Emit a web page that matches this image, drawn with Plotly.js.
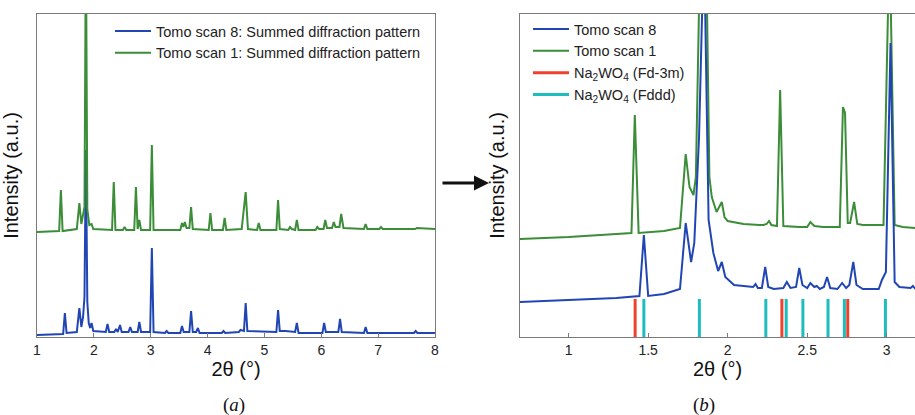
<!DOCTYPE html>
<html>
<head>
<meta charset="utf-8">
<script src="https://cdn.plot.ly/plotly-3.0.1.min.js"></script>
<style>html,body{margin:0;padding:0;background:#fff;overflow:hidden}#chart{width:915px;height:415px}</style>
</head>
<body>
<div id="chart"></div>
<script>
// ---------- Panel (a): full range summed patterns ----------
const scan8_a_x = [1.00,1.46,1.49,1.52,1.70,1.745,1.78,1.81,1.835,1.86,1.885,1.91,1.935,1.96,1.99,2.21,2.24,2.27,2.36,2.39,2.42,2.46,2.49,2.61,2.64,2.67,2.77,2.80,2.83,2.99,3.02,3.05,3.25,3.28,3.31,3.52,3.55,3.58,3.68,3.71,3.74,3.80,3.83,3.86,4.25,4.28,4.31,4.55,4.58,4.64,4.67,4.70,5.21,5.24,5.27,5.37,5.54,5.57,5.60,6.02,6.05,6.08,6.30,6.33,6.36,6.75,6.78,6.81,7.63,7.66,7.69,8.00];
const scan8_a_y = [2,3,24,4,5,29,10,20,40,187,35,14,9,14,6,5,13,5,5,8,5,12,5,5,10,5,5,15,5,5,89,5,4,6,4,4,11,5,5,26,5,5,9,4,4,6,4,5,7,6,34,6,5,27,6,6,5,14,4,4,14,5,5,18,5,4,10,4,4,6,4,4];

const scan1_a_x = [1.00,1.39,1.42,1.45,1.70,1.745,1.78,1.80,1.835,1.86,1.885,1.92,1.96,1.99,2.32,2.35,2.38,2.51,2.54,2.57,2.71,2.74,2.77,2.80,2.83,2.99,3.02,3.05,3.52,3.55,3.575,3.60,3.63,3.68,3.71,3.74,4.02,4.05,4.08,4.27,4.30,4.33,4.60,4.67,4.71,4.87,4.90,4.93,5.21,5.24,5.27,5.42,5.45,5.48,5.54,5.57,5.60,5.90,5.93,5.96,6.04,6.07,6.10,6.19,6.22,6.25,6.32,6.35,6.39,6.75,6.78,6.81,7.02,7.05,7.08,7.65,7.68,8.00];
const scan1_a_y = [105,106,147,106,108,134,113,118,130,400,128,112,113,108,107,155,107,107,110,107,107,150,108,117,107,107,192,107,107,114,110,115,109,109,130,108,107,124,107,107,119,107,108,145,108,107,114,107,107,137,108,107,110,108,107,117,107,107,110,108,108,117,109,109,115,110,110,123,109,108,113,108,108,110,108,108,109,108];

// ---------- Panel (b): zoomed patterns with reference reflections ----------
const scan8_b_x = [0.69,1.00,1.30,1.445,1.473,1.50,1.60,1.70,1.736,1.77,1.79,1.82,1.851,1.88,1.91,1.94,1.963,1.985,2.04,2.16,2.175,2.19,2.215,2.236,2.255,2.29,2.35,2.372,2.395,2.43,2.45,2.47,2.50,2.52,2.545,2.56,2.58,2.605,2.625,2.645,2.69,2.72,2.745,2.765,2.79,2.81,2.85,2.95,2.97,2.995,3.024,3.05,3.08,3.15,3.165,3.18];
const scan8_b_y = [35,37,39,41,102,41,43,48,114,75,94,200,400,117,84,66,75,60,52,50,53,49,49,70,50,48,49,55,49,50,69,52,49,54,50,51,48,50,60,49,48,54,49,52,75,52,48,48,57,65,294,55,50,49,51,48];

const scan1_b_x = [0.69,1.00,1.30,1.395,1.416,1.44,1.60,1.70,1.736,1.76,1.785,1.80,1.82,1.845,1.87,1.885,1.90,1.93,1.963,1.98,2.00,2.10,2.20,2.225,2.245,2.26,2.275,2.31,2.33,2.35,2.45,2.50,2.52,2.545,2.60,2.705,2.725,2.738,2.755,2.77,2.795,2.815,2.85,2.98,3.018,3.05,3.10,3.18];
const scan1_b_y = [98,100,103,104,222,104,106,109,183,150,142,160,330,400,330,160,140,125,135,120,116,113,112,112,113,116,112,111,247,111,110,110,115,111,110,110,230,224,114,114,135,113,112,112,400,112,110,109];

const fd3m_positions = [1.418, 2.341, 2.755];
const fddd_positions = [1.473, 1.822, 2.240, 2.368, 2.473, 2.631, 2.734, 2.992];
const stick_height = 38;

const legend_labels = {
  scan8_a: 'Tomo scan 8: Summed diffraction pattern',
  scan1_a: 'Tomo scan 1: Summed diffraction pattern',
  scan8_b: 'Tomo scan 8',
  scan1_b: 'Tomo scan 1',
  fd3m: 'Na<sub>2</sub>WO<sub>4</sub> (Fd-3m)',
  fddd: 'Na<sub>2</sub>WO<sub>4</sub> (Fddd)'
};

const BLUE = '#2146b4', GREEN = '#3b8d38', RED = '#f0402e', CYAN = '#1dbdbd';

function sticks(pos){
  const xs = [], ys = [];
  pos.forEach(p => { xs.push(p, p, null); ys.push(0, stick_height, null); });
  return {x: xs, y: ys};
}
const s1 = sticks(fd3m_positions), s2 = sticks(fddd_positions);

const traces = [
  {x: scan8_a_x, y: scan8_a_y, type: 'scatter', mode: 'lines', name: legend_labels.scan8_a,
   line: {color: BLUE, width: 2}, xaxis: 'x', yaxis: 'y', legend: 'legend2'},
  {x: scan1_a_x, y: scan1_a_y, type: 'scatter', mode: 'lines', name: legend_labels.scan1_a,
   line: {color: GREEN, width: 2}, xaxis: 'x', yaxis: 'y', legend: 'legend2'},
  {x: scan1_b_x, y: scan1_b_y, type: 'scatter', mode: 'lines', name: legend_labels.scan1_b,
   line: {color: GREEN, width: 2}, xaxis: 'x2', yaxis: 'y2', legendrank: 2},
  {x: scan8_b_x, y: scan8_b_y, type: 'scatter', mode: 'lines', name: legend_labels.scan8_b,
   line: {color: BLUE, width: 2}, xaxis: 'x2', yaxis: 'y2', legendrank: 1},
  {x: s1.x, y: s1.y, type: 'scatter', mode: 'lines', name: legend_labels.fd3m, connectgaps: false,
   line: {color: RED, width: 3}, xaxis: 'x2', yaxis: 'y2', legendrank: 3},
  {x: s2.x, y: s2.y, type: 'scatter', mode: 'lines', name: legend_labels.fddd, connectgaps: false,
   line: {color: CYAN, width: 3}, xaxis: 'x2', yaxis: 'y2', legendrank: 4}
];

const FONT = 'Liberation Sans, Arial, sans-serif';
const FRAME = '#7a7a7a';
const yDom = [1 - 337/415, 1 - 14/415];

const layout = {
  width: 915, height: 415,
  margin: {l: 0, r: 0, t: 0, b: 0},
  paper_bgcolor: '#fff', plot_bgcolor: '#fff',
  font: {family: FONT, color: '#222', size: 14},
  showlegend: true,
  xaxis: {domain: [37/915, 435/915], range: [1, 8], dtick: 1, tick0: 1,
    showline: true, mirror: true, linecolor: FRAME, linewidth: 1,
    ticks: 'inside', ticklen: 4, tickcolor: FRAME, showgrid: false, zeroline: false,
    tickfont: {size: 14, color: '#222'},
    title: {text: '2θ (°)', font: {size: 20, color: '#111'}, standoff: 4}},
  yaxis: {domain: yDom, range: [0, 323], showline: true, mirror: true, linecolor: FRAME, linewidth: 1,
    showticklabels: false, ticks: '', showgrid: false, zeroline: false,
    title: {text: 'Intensity (a.u.)', font: {size: 20, color: '#111'}, standoff: 12}},
  xaxis2: {domain: [520/915, 1], range: [0.694, 3.178], dtick: 0.5, tick0: 1,
    showline: true, mirror: true, linecolor: FRAME, linewidth: 1,
    ticks: 'inside', ticklen: 4, tickcolor: FRAME, showgrid: false, zeroline: false,
    tickfont: {size: 14, color: '#222'}, anchor: 'y2',
    title: {text: '2θ (°)', font: {size: 20, color: '#111'}, standoff: 4}},
  yaxis2: {domain: yDom, range: [0, 323], showline: true, mirror: false, linecolor: FRAME, linewidth: 1,
    showticklabels: false, ticks: '', showgrid: false, zeroline: false, anchor: 'x2',
    title: {text: 'Intensity (a.u.)', font: {size: 20, color: '#111'}, standoff: 9}},
  legend: {x: 528/915, y: 1 - 13/415, xanchor: 'left', yanchor: 'top', bgcolor: 'rgba(0,0,0,0)',
    font: {family: FONT, size: 14.5, color: '#222'}, tracegroupgap: 0, traceorder: 'normal', itemwidth: 36},
  legend2: {x: 110/915, y: 1 - 15/415, xanchor: 'left', yanchor: 'top', bgcolor: 'rgba(0,0,0,0)',
    font: {family: FONT, size: 14.5, color: '#222'}, tracegroupgap: 0, itemwidth: 36},
  annotations: [
    {text: '(<i>a</i>)', xref: 'paper', yref: 'paper', x: 221/915, y: 1 - 405/415, yanchor: 'middle', showarrow: false,
     font: {family: 'Liberation Serif, Times New Roman, serif', size: 19, color: '#111'}},
    {text: '(<i>b</i>)', xref: 'paper', yref: 'paper', x: 717/915, y: 1 - 405/415, yanchor: 'middle', showarrow: false,
     font: {family: 'Liberation Serif, Times New Roman, serif', size: 19, color: '#111'}},
    {text: '', xref: 'paper', yref: 'paper', x: 489/915, y: 1 - 183/415, showarrow: true,
     ax: -48, ay: 0, arrowhead: 2, arrowsize: 1, arrowwidth: 3, arrowcolor: '#111'}
  ]
};

Plotly.newPlot('chart', traces, layout, {staticPlot: true, displayModeBar: false});
</script>
</body>
</html>
